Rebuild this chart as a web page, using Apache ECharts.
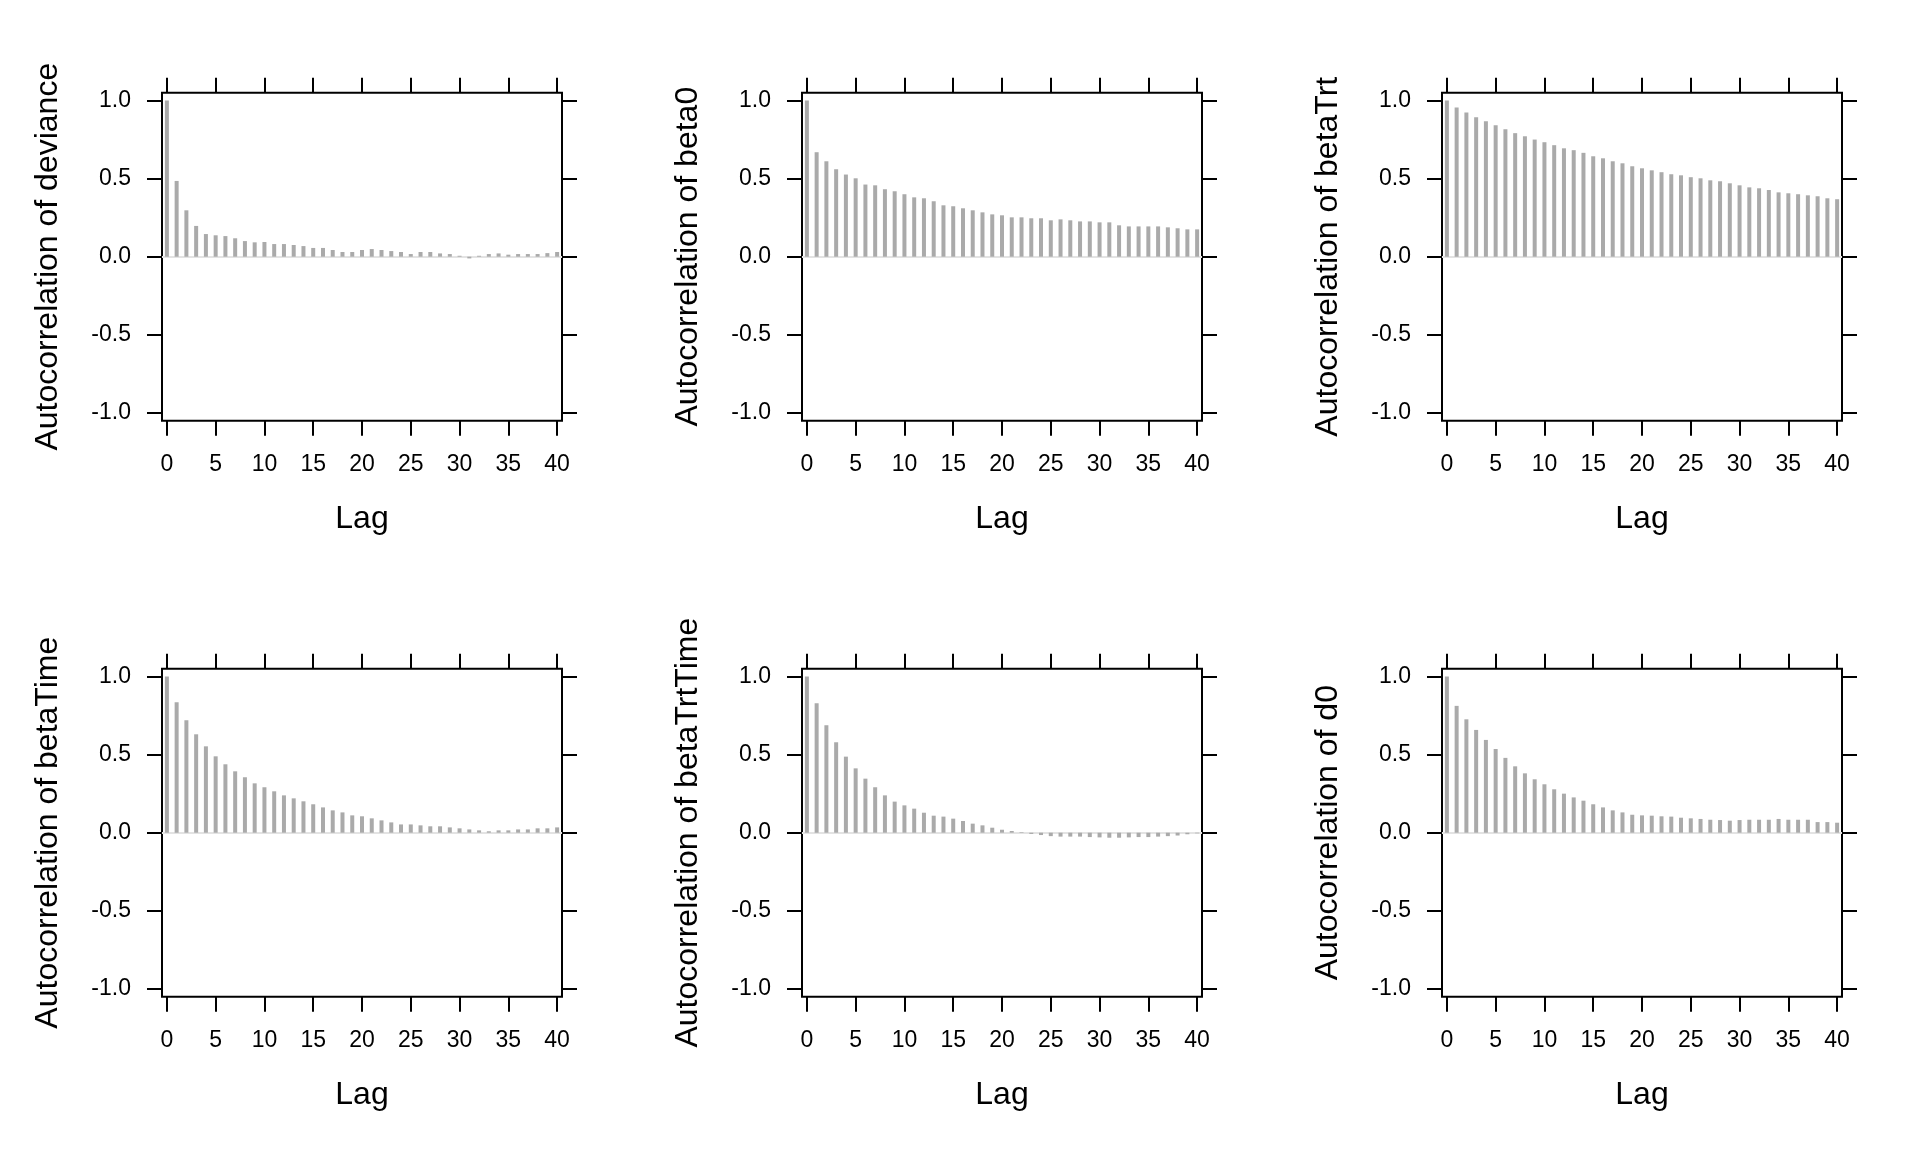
<!DOCTYPE html>
<html>
<head>
<meta charset="utf-8">
<script src="https://cdn.jsdelivr.net/npm/echarts@6/dist/echarts.min.js"></script>
<style>
html,body{margin:0;padding:0;background:#fff;}
#chart{width:1920px;height:1152px;}
</style>
</head>
<body>
<div id="chart"></div>
<script>
// ---- data ----
const lags = [0,1,2,3,4,5,6,7,8,9,10,11,12,13,14,15,16,17,18,19,20,21,22,23,24,25,26,27,28,29,30,31,32,33,34,35,36,37,38,39,40];
const xTickValues = [0,5,10,15,20,25,30,35,40];
const yTickValues = [-1,-0.5,0,0.5,1];
const paramNames = ['deviance','beta0','betaTrt','betaTime','betaTrtTime','d0'];
const xTitle = 'Lag';

const acfDeviance = [1.0,0.485,0.297,0.197,0.145,0.137,0.132,0.118,0.100,0.092,0.094,0.081,0.081,0.075,0.068,0.056,0.056,0.043,0.030,0.030,0.043,0.049,0.043,0.036,0.030,0.017,0.030,0.030,0.021,0.017,0.006,-0.011,0.006,0.017,0.021,0.013,0.017,0.017,0.017,0.023,0.030];
const acfBeta0 = [1.0,0.669,0.611,0.560,0.526,0.502,0.462,0.457,0.432,0.419,0.400,0.380,0.374,0.355,0.329,0.323,0.310,0.297,0.284,0.271,0.265,0.252,0.252,0.246,0.246,0.233,0.239,0.233,0.226,0.226,0.220,0.220,0.201,0.194,0.194,0.194,0.194,0.188,0.182,0.175,0.175];
const acfBetaTrt = [1.0,0.956,0.924,0.893,0.868,0.842,0.816,0.791,0.771,0.750,0.733,0.714,0.694,0.682,0.665,0.643,0.630,0.611,0.598,0.579,0.566,0.553,0.541,0.528,0.521,0.509,0.502,0.489,0.483,0.470,0.457,0.444,0.438,0.427,0.412,0.406,0.400,0.393,0.387,0.374,0.368];
const acfBetaTime = [1.0,0.835,0.720,0.630,0.553,0.489,0.438,0.393,0.355,0.316,0.291,0.265,0.239,0.220,0.201,0.182,0.162,0.143,0.130,0.111,0.105,0.092,0.079,0.066,0.053,0.053,0.047,0.041,0.041,0.034,0.028,0.021,0.015,0.009,0.015,0.015,0.021,0.021,0.028,0.028,0.034];
const acfBetaTrtTime = [1.0,0.829,0.688,0.579,0.487,0.412,0.346,0.291,0.239,0.199,0.175,0.154,0.128,0.109,0.103,0.090,0.075,0.058,0.047,0.032,0.019,0.011,0.004,-0.008,-0.015,-0.022,-0.025,-0.025,-0.025,-0.028,-0.030,-0.032,-0.032,-0.030,-0.028,-0.028,-0.025,-0.022,-0.018,-0.010,-0.004];
const acfD0 = [1.0,0.812,0.726,0.658,0.594,0.536,0.479,0.425,0.380,0.342,0.310,0.278,0.250,0.226,0.205,0.182,0.162,0.143,0.130,0.115,0.111,0.109,0.105,0.103,0.096,0.092,0.088,0.083,0.081,0.077,0.081,0.083,0.083,0.083,0.088,0.083,0.083,0.083,0.068,0.068,0.064];

const allSeries = [acfDeviance, acfBeta0, acfBetaTrt, acfBetaTime, acfBetaTrtTime, acfD0];

// ---- layout / style ----
const FONT = '"Liberation Sans", Arial, Helvetica, sans-serif';
const cellW = 640, cellH = 576;
const boxLeft = 162, boxTop = 92.7, boxW = 400, boxH = 328;
const tickStyle = {show:true, inside:false, length:15, lineStyle:{color:'#000', width:2}};
const hiddenLine = {show:false, onZero:false};

const grids = [], xAxes = [], yAxes = [], series = [];
for (let i = 0; i < 6; i++) {
  const col = i % 3, row = Math.floor(i / 3);
  grids.push({
    left: col*cellW + boxLeft, top: row*cellH + boxTop, width: boxW, height: boxH,
    show: true, borderColor: '#000', borderWidth: 2, backgroundColor: 'transparent',
    containLabel: false
  });
  // bottom x axis
  xAxes.push({
    gridIndex: i, type: 'value', position: 'bottom', min: -0.5, max: 40.5,
    axisLine: hiddenLine,
    axisTick: Object.assign({customValues: xTickValues}, tickStyle),
    axisLabel: {show:true, customValues: xTickValues, fontSize: 23, color:'#000', fontFamily: FONT, margin: 32},
    splitLine: {show:false},
    name: xTitle, nameLocation: 'middle', nameGap: 82,
    nameTextStyle: {fontSize: 32, color:'#000', fontFamily: FONT}
  });
  // top x axis (ticks only)
  xAxes.push({
    gridIndex: i, type: 'value', position: 'top', min: -0.5, max: 40.5,
    axisLine: hiddenLine,
    axisTick: Object.assign({customValues: xTickValues}, tickStyle),
    axisLabel: {show:false},
    splitLine: {show:false}
  });
  // left y axis
  yAxes.push({
    gridIndex: i, type: 'value', position: 'left', min: -1.05, max: 1.05,
    axisLine: hiddenLine,
    axisTick: Object.assign({customValues: yTickValues}, tickStyle),
    axisLabel: {show:true, customValues: yTickValues, fontSize: 23, color:'#000', fontFamily: FONT, margin: 31,
      formatter: v => Number(v).toFixed(1)},
    splitLine: {show:false},
    name: 'Autocorrelation of ' + paramNames[i], nameLocation: 'middle', nameGap: 98,
    nameTextStyle: {fontSize: 32, color:'#000', fontFamily: FONT}
  });
  // right y axis (ticks only)
  yAxes.push({
    gridIndex: i, type: 'value', position: 'right', min: -1.05, max: 1.05,
    axisLine: hiddenLine,
    axisTick: Object.assign({customValues: yTickValues}, tickStyle),
    axisLabel: {show:false},
    splitLine: {show:false}
  });
  series.push({
    type: 'bar', xAxisIndex: i*2, yAxisIndex: i*2,
    data: lags.map((l, k) => [l, allSeries[i][k]]),
    barWidth: 4,
    itemStyle: {color: '#aaaaaa'},
    silent: true,
    markLine: {
      silent: true, symbol: 'none', z: 1,
      label: {show:false},
      lineStyle: {color:'#e3e3e3', width:2, type:'solid'},
      data: [{yAxis: 0}]
    }
  });
}

const chart = echarts.init(document.getElementById('chart'), null, {renderer:'canvas'});
chart.setOption({
  backgroundColor: '#fff',
  animation: false,
  textStyle: {fontFamily: FONT},
  grid: grids, xAxis: xAxes, yAxis: yAxes, series: series
});
</script>
</body>
</html>
